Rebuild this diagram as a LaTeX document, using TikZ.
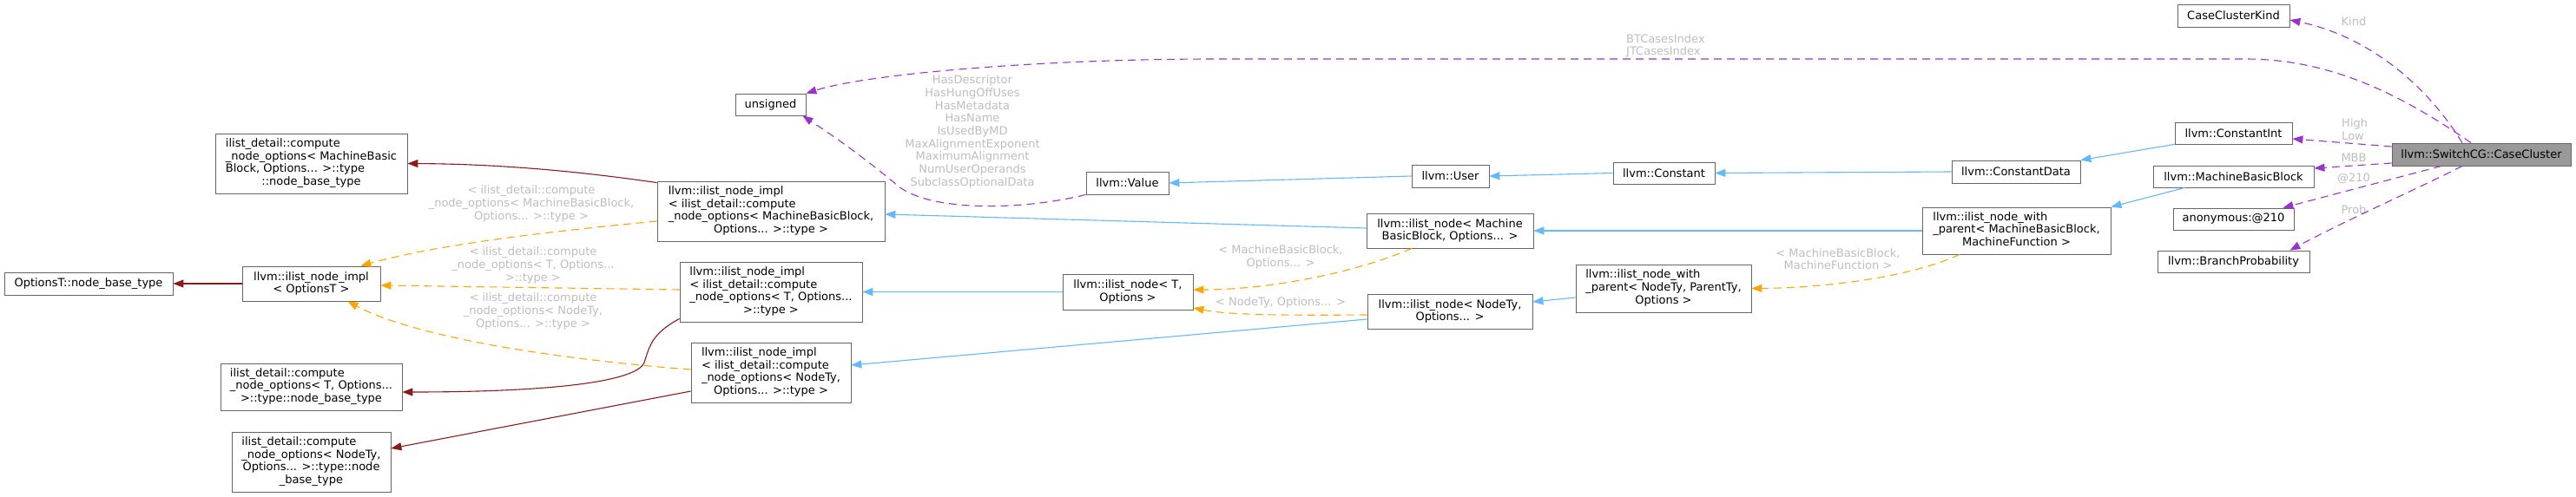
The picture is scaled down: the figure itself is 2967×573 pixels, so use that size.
\documentclass[tikz,border=0pt]{standalone}
\usepackage{fontspec}
\setmainfont{DejaVu Sans}
\usepackage{tikz}
\usetikzlibrary{arrows.meta}
\usepackage{xcolor}
\definecolor{edgeblue}{HTML}{63B8FF}
\definecolor{edgered}{HTML}{8B1A1A}
\definecolor{edgeorange}{HTML}{FFA500}
\definecolor{edgepurple}{HTML}{9A32CD}
\definecolor{boxline}{HTML}{666666}
\definecolor{focusfill}{HTML}{999999}
\definecolor{lblgray}{HTML}{BEBEBE}
\newcommand{\dxfont}{\fontsize{13}{14.7}\selectfont}
\newcommand{\llines}[1]{\begin{tabular}{@{}l@{}}#1\end{tabular}}
\newcommand{\ctrrow}[1]{\multicolumn{1}{@{}c@{}}{#1}}
\tikzset{
  classbox/.style={draw=boxline, fill=white, line width=0.8pt, inner sep=2pt, font=\dxfont, align=center},
  focusbox/.style={classbox, fill=focusfill},
  sz/.style 2 args={minimum width=#1pt, minimum height=#2pt},
  pubarrow/.style={-{Triangle[length=12pt,width=9pt]}, draw=edgeblue, line width=1.1pt},
  privarrow/.style={-{Triangle[length=12pt,width=9pt]}, draw=edgered, line width=1.1pt},
  tmplarrow/.style={-{Triangle[length=12pt,width=9pt]}, draw=edgeorange, line width=1.1pt, dash pattern=on 9pt off 6pt},
  usearrow/.style={-{Triangle[length=12pt,width=9pt]}, draw=edgepurple, line width=1.1pt, dash pattern=on 9pt off 6pt},
  elabel/.style={font=\dxfont, text=lblgray, inner sep=0pt, align=center}
}

\begin{document}
\begin{tikzpicture}[x=1pt, y=-1pt]
\fill[white] (0,0) rectangle (2967,573);
\useasboundingbox (0,0) rectangle (2967,573);
\node[classbox, sz={194}{26}] (nbt) at (102,327) {OptionsT::node\_base\_type};
\node[classbox, sz={159}{40}] (implopt) at (358.5,327) {llvm::ilist\_node\_impl\\< OptionsT >};
\node[classbox, sz={221}{69}] (cmbb) at (358.5,188.5) {\llines{ilist\_detail::compute\\\_node\_options< MachineBasic\\Block, Options... >::type\\\ctrrow{::node\_base\_type}}};
\node[classbox, sz={209}{54}] (ct) at (358.5,446) {\llines{ilist\_detail::compute\\\_node\_options< T, Options...\\\ctrrow{>::type::node\_base\_type}}};
\node[classbox, sz={183}{69}] (cnode) at (358.5,532.5) {\llines{ilist\_detail::compute\\\_node\_options< NodeTy,\\\ctrrow{Options... >::type::node}\\\ctrrow{\_base\_type}}};
\node[classbox, sz={81}{25}] (unsigned) at (887.5,120.5) {unsigned};
\node[classbox, sz={262}{69}] (implmbb) at (888,243.5) {\llines{llvm::ilist\_node\_impl\\< ilist\_detail::compute\\\_node\_options< MachineBasicBlock,\\\ctrrow{Options... >::type >}}};
\node[classbox, sz={210}{69}] (implt) at (888,336.5) {\llines{llvm::ilist\_node\_impl\\< ilist\_detail::compute\\\_node\_options< T, Options...\\\ctrrow{>::type >}}};
\node[classbox, sz={184}{69}] (implnode) at (888,429.5) {\llines{llvm::ilist\_node\_impl\\< ilist\_detail::compute\\\_node\_options< NodeTy,\\\ctrrow{Options... >::type >}}};
\node[classbox, sz={95}{26}] (value) at (1298.5,211) {llvm::Value};
\node[classbox, sz={150}{41}] (nodet) at (1299,336.5) {llvm::ilist\_node< T,\\Options >};
\node[classbox, sz={89}{26}] (user) at (1670.5,203) {llvm::User};
\node[classbox, sz={192}{40}] (nodembb) at (1670,266) {llvm::ilist\_node< Machine\\BasicBlock, Options... >};
\node[classbox, sz={190}{40}] (nodenode) at (1670,359) {llvm::ilist\_node< NodeTy,\\Options... >};
\node[classbox, sz={117}{25}] (constant) at (1916.5,199.5) {llvm::Constant};
\node[classbox, sz={202}{55}] (nwpnode) at (1916,332.5) {\llines{llvm::ilist\_node\_with\\\_parent< NodeTy, ParentTy,\\\ctrrow{Options >}}};
\node[classbox, sz={148}{26}] (cdata) at (2322,198) {llvm::ConstantData};
\node[classbox, sz={217}{54}] (nwpmbb) at (2322.5,266) {\llines{llvm::ilist\_node\_with\\\_parent< MachineBasicBlock,\\\ctrrow{MachineFunction >}}};
\node[classbox, sz={129}{26}] (kind) at (2572.5,18) {CaseClusterKind};
\node[classbox, sz={135}{25}] (cint) at (2572.5,153.5) {llvm::ConstantInt};
\node[classbox, sz={185}{25}] (mbb) at (2572.5,203.5) {llvm::MachineBasicBlock};
\node[classbox, sz={139}{25}] (anon) at (2572.5,252.5) {anonymous:@210};
\node[classbox, sz={175}{25}] (prob) at (2572.5,301.5) {llvm::BranchProbability};
\node[focusbox, sz={206}{26}] (cc) at (2858,178) {llvm::SwitchCG::CaseCluster};

\node[elabel] (lmbbimpl) at (612,235) {< ilist\_detail::compute\\\_node\_options< MachineBasicBlock,\\Options... >::type >};
\node[elabel] (ltimpl) at (614,306) {< ilist\_detail::compute\\\_node\_options< T, Options...\\>::type >};
\node[elabel] (lnodeimpl) at (614,359) {< ilist\_detail::compute\\\_node\_options< NodeTy,\\Options... >::type >};
\node[elabel] (lmbbnode) at (1475,296.5) {< MachineBasicBlock,\\Options... >};
\node[elabel] (lnodety) at (1475,349) {< NodeTy, Options... >};
\node[elabel] (lnwp) at (2117,298.5) {< MachineBasicBlock,\\MachineFunction >};
\node[elabel] (lvalue) at (1120,152) {HasDescriptor\\HasHungOffUses\\HasMetadata\\HasName\\IsUsedByMD\\MaxAlignmentExponent\\MaximumAlignment\\NumUserOperands\\SubclassOptionalData};
\node[elabel, anchor=west, align=left] (lidx) at (1873,53) {BTCasesIndex\\JTCasesIndex};
\node[elabel] (lkind) at (2711,25) {Kind};
\node[elabel, anchor=west, align=left] (lhl) at (2697,149.5) {High\\Low};
\node[elabel] (lmbb) at (2711,182) {MBB};
\node[elabel] (lanon) at (2711,206) {@210};
\node[elabel] (lprob) at (2711,242) {Prob};

\draw[pubarrow] (user.west) -- (value.east);
\draw[pubarrow] (constant.west) -- (user.east);
\draw[pubarrow] (cdata.west) -- (constant.east);
\draw[pubarrow] (cint.south west) -- (cdata.north east);
\draw[pubarrow] (mbb.193) -- (nwpmbb.north east);
\draw[pubarrow] (nwpmbb.west) -- (nodembb.east);
\draw[pubarrow] ([yshift=-10.5pt]nwpnode.west) -- ([yshift=11pt]nodenode.east);
\draw[pubarrow] ([yshift=3pt]nodembb.west) -- ([yshift=-3.5pt]implmbb.east);
\draw[pubarrow] (nodet.west) -- (implt.east);
\draw[pubarrow] ([yshift=-9pt]nodenode.west) -- ([yshift=8.5pt]implnode.east);

\draw[privarrow] (implopt.west) -- (nbt.east);
\draw[privarrow] ([yshift=-2pt]implmbb.north west) .. controls (650,195) and (560,189) .. (cmbb.east);
\draw[privarrow] ([yshift=4pt]implt.south west) .. controls (750,385) and (748,400) .. (742,418) .. controls (732,442) and (620,452) .. ([yshift=-6pt]ct.east);
\draw[privarrow] ([yshift=-21.5pt]implnode.west) -- ([yshift=15.5pt]cnode.east);

\draw[tmplarrow] ([yshift=-11.5pt]implmbb.west) .. controls (620,268) and (500,283) .. ([xshift=-23pt]implopt.north east);
\draw[tmplarrow] ([yshift=2.5pt]implt.west) -- ([yshift=-2pt]implopt.east);
\draw[tmplarrow] ([yshift=3.5pt]implnode.west) .. controls (650,415) and (480,390) .. ([xshift=-38pt]implopt.south east);
\draw[tmplarrow] ([xshift=-44pt]nodembb.south) .. controls (1560,315) and (1460,334) .. ([yshift=2.5pt]nodet.east);
\draw[tmplarrow] ([yshift=-4pt]nodenode.west) .. controls (1450,364) and (1410,362) .. ([yshift=-18.5pt]nodet.east);
\draw[tmplarrow] ([xshift=-65.5pt]nwpmbb.south) .. controls (2200,320) and (2100,332) .. (nwpnode.east);

\draw[usearrow] (value.south west) .. controls (1180,242) and (1075,245) .. (1035,215) .. controls (1015,198) and (980,170) .. ([xshift=-4pt]unsigned.south east);
\draw[usearrow] ([xshift=-12pt]cc.north) .. controls (2760,105) and (2680,68) .. (2586,68) -- (1400,68) .. controls (1200,68) and (1000,85) .. (unsigned.north east);
\draw[usearrow] ([xshift=-22pt]cc.north) .. controls (2790,90) and (2720,40) .. ([yshift=-5pt]kind.east);
\draw[usearrow] ([yshift=9pt]cc.west) -- ([yshift=-6.5pt]cint.east);
\draw[usearrow] ([yshift=-10pt]cc.west) -- ([yshift=9.5pt]mbb.east);
\draw[usearrow] ([xshift=-46pt]cc.south) -- ([xshift=-13pt]anon.north east);
\draw[usearrow] ([xshift=-22pt]cc.south) .. controls (2790,215) and (2700,255) .. ([xshift=-23pt]prob.north east);
\end{tikzpicture}
\end{document}
